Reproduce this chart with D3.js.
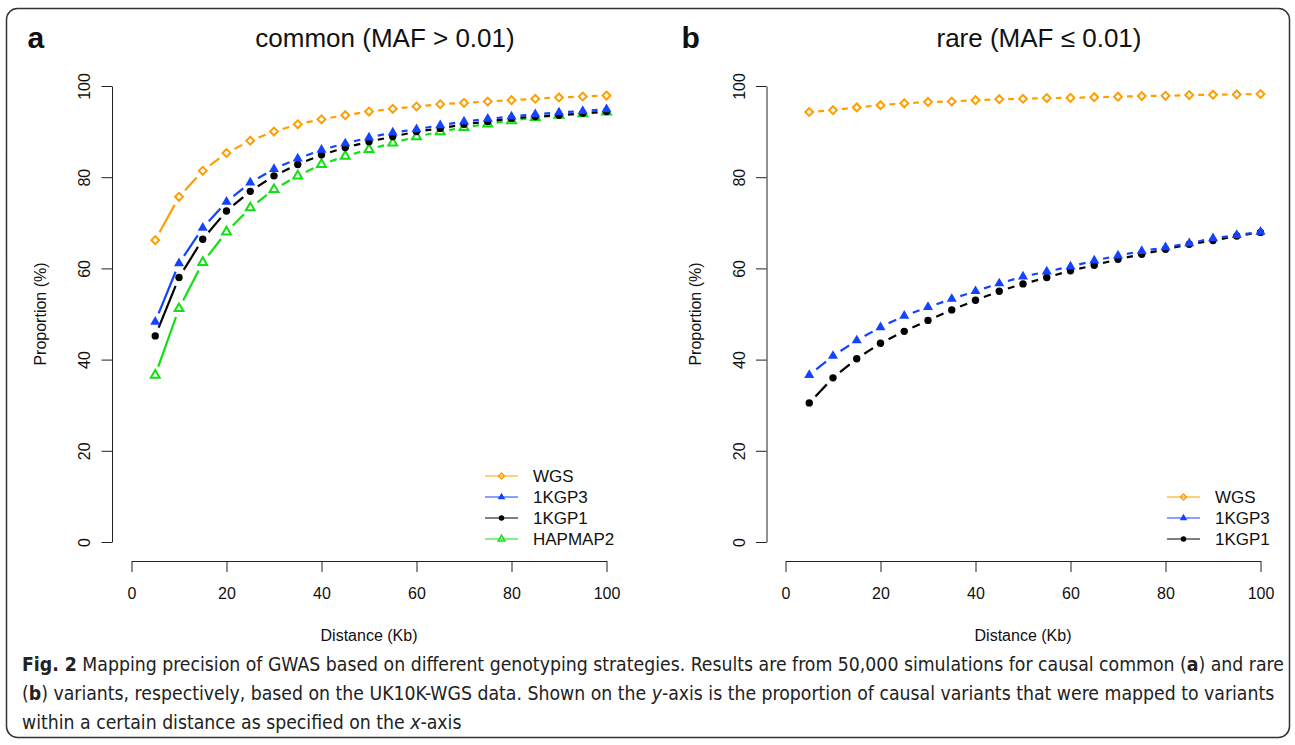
<!DOCTYPE html>
<html>
<head>
<meta charset="utf-8">
<script src="https://cdn.jsdelivr.net/npm/d3@7"></script>
<style>
  body { margin: 0; background: #fff; }
  svg { display: block; font-family: "Liberation Sans", Arial, sans-serif; }
</style>
</head>
<body>
<div id="chart"></div>
<script>
const width = 1295, height = 745;

// distances (Kb)
const distance = [5, 10, 15, 20, 25, 30, 35, 40, 45, 50, 55, 60, 65, 70, 75, 80, 85, 90, 95, 100];

// panel a: common variants
const commonWGS = [66.2, 75.7, 81.4, 85.3, 88.0, 90.0, 91.6, 92.7, 93.6, 94.4, 95.0, 95.5, 96.0, 96.3, 96.6, 96.9, 97.2, 97.5, 97.7, 97.9];
const common1KGP3 = [48.3, 61.1, 68.9, 74.6, 78.8, 81.8, 84.1, 86.0, 87.4, 88.7, 89.8, 90.5, 91.4, 92.2, 92.8, 93.3, 93.8, 94.2, 94.5, 94.9];
const common1KGP1 = [45.2, 58.0, 66.4, 72.6, 76.9, 80.3, 82.8, 84.9, 86.5, 87.8, 88.9, 90.0, 90.7, 91.6, 92.2, 92.9, 93.3, 93.6, 94.0, 94.4];
const commonHAPMAP2 = [36.6, 51.2, 61.3, 68.0, 73.3, 77.3, 80.3, 82.8, 84.6, 86.1, 87.5, 88.9, 90.0, 90.9, 91.7, 92.4, 93.1, 93.6, 93.9, 94.3];

// panel b: rare variants
const rareWGS = [94.3, 94.7, 95.3, 95.8, 96.2, 96.5, 96.6, 96.9, 97.1, 97.2, 97.35, 97.4, 97.55, 97.65, 97.8, 97.85, 98.0, 98.1, 98.15, 98.25];
const rare1KGP3 = [36.6, 40.8, 44.2, 47.1, 49.6, 51.5, 53.3, 55.0, 56.7, 58.2, 59.3, 60.4, 61.7, 62.8, 63.8, 64.6, 65.5, 66.6, 67.3, 68.0];
const rare1KGP1 = [30.5, 36.0, 40.2, 43.6, 46.2, 48.6, 50.9, 53.0, 55.0, 56.6, 58.0, 59.5, 60.7, 62.0, 63.1, 64.2, 65.3, 66.1, 67.1, 67.9];

const xTicks = [0, 20, 40, 60, 80, 100];
const yTicks = [0, 20, 40, 60, 80, 100];

const styles = {
  WGS:     {color: "#ff9e00", shape: "diamond"},
  "1KGP3": {color: "#1443ff", shape: "triangleFilled"},
  "1KGP1": {color: "#000000", shape: "circle"},
  HAPMAP2: {color: "#11e011", shape: "triangleOpen"}
};

const panels = [
  {letter: "a", title: "common (MAF > 0.01)", x0: 131.5, yAxisX: 112,
   series: [["WGS", commonWGS], ["1KGP3", common1KGP3], ["1KGP1", common1KGP1], ["HAPMAP2", commonHAPMAP2]],
   legendX: 485, legendY: 476},
  {letter: "b", title: "rare (MAF \u2264 0.01)", x0: 785.5, yAxisX: 766.5,
   series: [["WGS", rareWGS], ["1KGP3", rare1KGP3], ["1KGP1", rare1KGP1]],
   legendX: 1167, legendY: 497}
];

const svg = d3.select("#chart").append("svg")
  .attr("width", width)
  .attr("height", height);

// outer frame
svg.append("rect")
  .attr("x", 6.5).attr("y", 8.5)
  .attr("width", 1283).attr("height", 729)
  .attr("rx", 11)
  .attr("fill", "none")
  .attr("stroke", "#333")
  .attr("stroke-width", 1.5);

function marker(g, shape, color, cx, cy, k) {
  if (shape === "diamond") {
    g.append("path")
      .attr("d", d3.symbol(d3.symbolSquare, 31 * k * k)())
      .attr("transform", `translate(${cx},${cy}) rotate(45)`)
      .attr("fill", "none").attr("stroke", color).attr("stroke-width", 2 * Math.max(k, 0.6));
  } else if (shape === "triangleFilled") {
    g.append("path")
      .attr("d", d3.symbol(d3.symbolTriangle, 44 * k * k)())
      .attr("transform", `translate(${cx},${cy})`)
      .attr("fill", color);
  } else if (shape === "circle") {
    g.append("circle")
      .attr("cx", cx).attr("cy", cy).attr("r", 3.7 * k)
      .attr("fill", color);
  } else {
    g.append("path")
      .attr("d", d3.symbol(d3.symbolTriangle, 34 * k * k)())
      .attr("transform", `translate(${cx},${cy})`)
      .attr("fill", "none").attr("stroke", color).attr("stroke-width", 2 * Math.max(k, 0.6));
  }
}

panels.forEach(p => {
  const x = d3.scaleLinear().domain([0, 100]).range([p.x0, p.x0 + 475]);
  const y = d3.scaleLinear().domain([0, 100]).range([542, 86]);
  const g = svg.append("g");

  // x axis
  const xAxis = g.append("g")
    .attr("transform", "translate(0,561)")
    .call(d3.axisBottom(x).tickValues(xTicks).tickSize(11).tickSizeOuter(0).tickPadding(16));
  xAxis.selectAll("text").attr("font-size", 16).attr("fill", "#111").attr("font-family", "Liberation Sans, Arial, sans-serif");

  // y axis, labels rotated like R
  const yAxis = g.append("g")
    .attr("transform", `translate(${p.yAxisX},0)`)
    .call(d3.axisLeft(y).tickValues(yTicks).tickSize(10.5).tickSizeOuter(0));
  yAxis.selectAll("text")
    .attr("x", null).attr("dy", null)
    .attr("transform", "translate(-22,0) rotate(-90)")
    .attr("text-anchor", "middle")
    .attr("font-size", 16).attr("fill", "#111").attr("font-family", "Liberation Sans, Arial, sans-serif");
  g.selectAll(".domain, .tick line").attr("stroke", "#222");

  // titles
  g.append("text")
    .attr("x", p.x0 + 253.5).attr("y", 47)
    .attr("text-anchor", "middle")
    .attr("font-size", 26).attr("fill", "#111")
    .text(p.title);
  g.append("text")
    .attr("x", p.x0 - 104).attr("y", 48)
    .attr("font-size", 30).attr("font-weight", "bold").attr("fill", "#111")
    .text(p.letter);
  g.append("text")
    .attr("x", p.x0 + 237.5).attr("y", 641)
    .attr("text-anchor", "middle")
    .attr("font-size", 16).attr("fill", "#111")
    .text("Distance (Kb)");
  g.append("text")
    .attr("transform", `translate(${p.yAxisX - 66},314) rotate(-90)`)
    .attr("text-anchor", "middle")
    .attr("font-size", 16).attr("fill", "#111")
    .text("Proportion (%)");

  // series: type "b" lines (gaps around points) + markers
  const gap = 9;
  p.series.slice().reverse().forEach(([name, values]) => {
    const st = styles[name];
    const pts = values.map((v, i) => [x(distance[i]), y(v)]);
    const sg = g.append("g");
    d3.pairs(pts).forEach(([a, b]) => {
      const dx = b[0] - a[0], dy = b[1] - a[1];
      const len = Math.hypot(dx, dy);
      if (len <= 2 * gap) return;
      const ux = dx / len * gap, uy = dy / len * gap;
      sg.append("line")
        .attr("x1", a[0] + ux).attr("y1", a[1] + uy)
        .attr("x2", b[0] - ux).attr("y2", b[1] - uy)
        .attr("stroke", st.color)
        .attr("stroke-width", 2.2);
    });
    pts.forEach(([cx, cy]) => marker(sg, st.shape, st.color, cx, cy, 1));
  });

  // legend
  const lg = g.append("g");
  p.series.forEach(([name], i) => {
    const st = styles[name];
    const ly = p.legendY + i * 21;
    lg.append("line")
      .attr("x1", p.legendX).attr("x2", p.legendX + 33)
      .attr("y1", ly).attr("y2", ly)
      .attr("stroke", st.color).attr("stroke-width", 1.1);
    marker(lg, st.shape, st.color, p.legendX + 16.5, ly, 0.75);
    lg.append("text")
      .attr("x", p.legendX + 48).attr("y", ly + 6)
      .attr("font-size", 17).attr("fill", "#111")
      .text(name);
  });
});

// caption
const capFont = "'Liberation Sans Narrow', 'DejaVu Sans Condensed', sans-serif";
const cap = svg.append("g")
  .attr("font-family", capFont)
  .attr("font-size", 19)
  .attr("fill", "#222");

const line1 = cap.append("text").attr("x", 22).attr("y", 671);
line1.append("tspan").attr("font-weight", "bold").text("Fig. 2");
line1.append("tspan").text(" Mapping precision of GWAS based on different genotyping strategies. Results are from 50,000 simulations for causal common (");
line1.append("tspan").attr("font-weight", "bold").text("a");
line1.append("tspan").text(") and rare");

const line2 = cap.append("text").attr("x", 22).attr("y", 700);
line2.append("tspan").text("(");
line2.append("tspan").attr("font-weight", "bold").text("b");
line2.append("tspan").text(") variants, respectively, based on the UK10K-WGS data. Shown on the ");
line2.append("tspan").attr("font-style", "italic").text("y");
line2.append("tspan").text("-axis is the proportion of causal variants that were mapped to variants");

const line3 = cap.append("text").attr("x", 22).attr("y", 729);
line3.append("tspan").text("within a certain distance as specified on the ");
line3.append("tspan").attr("font-style", "italic").text("x");
line3.append("tspan").text("-axis");

// fit first caption line to the frame width
const w1 = line1.node().getComputedTextLength();
cap.attr("font-size", 19 * 1262 / w1);
</script>
</body>
</html>
